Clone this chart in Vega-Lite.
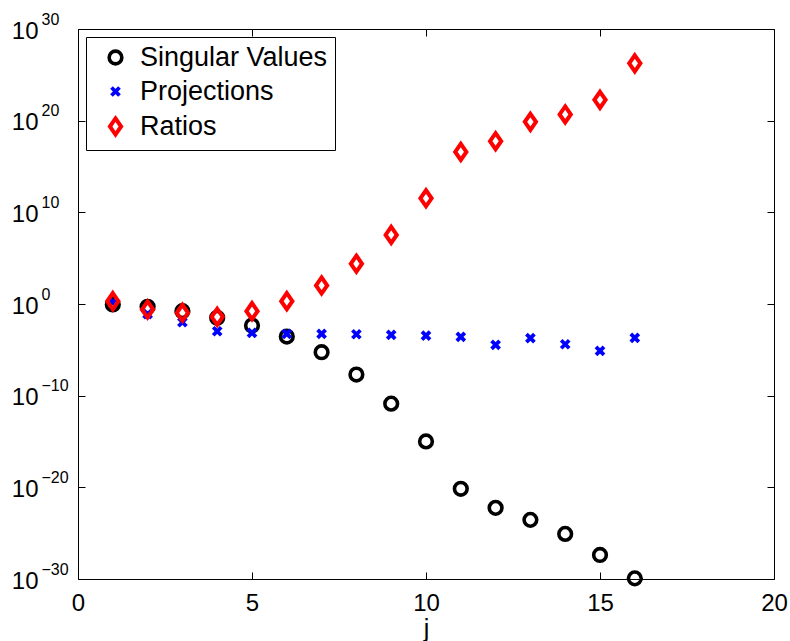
{
  "$schema": "https://vega.github.io/schema/vega-lite/v6.json",
  "width": 696,
  "height": 550,
  "autosize": {"type": "none"},
  "padding": {"left": 78, "top": 29, "right": 16, "bottom": 62},
  "background": "white",
  "data": {
    "values": [
      {"j": 1, "series": "Singular Values", "value": 0.891},
      {"j": 2, "series": "Singular Values", "value": 0.49},
      {"j": 3, "series": "Singular Values", "value": 0.166},
      {"j": 4, "series": "Singular Values", "value": 0.0309},
      {"j": 5, "series": "Singular Values", "value": 0.00447},
      {"j": 6, "series": "Singular Values", "value": 2.82e-4},
      {"j": 7, "series": "Singular Values", "value": 5.5e-6},
      {"j": 8, "series": "Singular Values", "value": 2.0e-8},
      {"j": 9, "series": "Singular Values", "value": 1.35e-11},
      {"j": 10, "series": "Singular Values", "value": 1.02e-15},
      {"j": 11, "series": "Singular Values", "value": 6.92e-21},
      {"j": 12, "series": "Singular Values", "value": 5.75e-23},
      {"j": 13, "series": "Singular Values", "value": 2.82e-24},
      {"j": 14, "series": "Singular Values", "value": 8.32e-26},
      {"j": 15, "series": "Singular Values", "value": 4.17e-28},
      {"j": 16, "series": "Singular Values", "value": 1.17e-30},
      {"j": 1, "series": "Projections", "value": 1.58},
      {"j": 2, "series": "Projections", "value": 0.0794},
      {"j": 3, "series": "Projections", "value": 0.0102},
      {"j": 4, "series": "Projections", "value": 0.00107},
      {"j": 5, "series": "Projections", "value": 7.08e-4},
      {"j": 6, "series": "Projections", "value": 5.5e-4},
      {"j": 7, "series": "Projections", "value": 5.5e-4},
      {"j": 8, "series": "Projections", "value": 5.01e-4},
      {"j": 9, "series": "Projections", "value": 4.27e-4},
      {"j": 10, "series": "Projections", "value": 3.63e-4},
      {"j": 11, "series": "Projections", "value": 2.63e-4},
      {"j": 12, "series": "Projections", "value": 3.47e-5},
      {"j": 13, "series": "Projections", "value": 1.86e-4},
      {"j": 14, "series": "Projections", "value": 4.07e-5},
      {"j": 15, "series": "Projections", "value": 7.59e-6},
      {"j": 16, "series": "Projections", "value": 2.0e-4},
      {"j": 1, "series": "Ratios", "value": 2.04},
      {"j": 2, "series": "Ratios", "value": 0.251},
      {"j": 3, "series": "Ratios", "value": 0.11},
      {"j": 4, "series": "Ratios", "value": 0.0398},
      {"j": 5, "series": "Ratios", "value": 0.166},
      {"j": 6, "series": "Ratios", "value": 2.04},
      {"j": 7, "series": "Ratios", "value": 104.7},
      {"j": 8, "series": "Ratios", "value": 2.45e4},
      {"j": 9, "series": "Ratios", "value": 3.47e7},
      {"j": 10, "series": "Ratios", "value": 3.39e11},
      {"j": 11, "series": "Ratios", "value": 3.89e16},
      {"j": 12, "series": "Ratios", "value": 5.75e17},
      {"j": 13, "series": "Ratios", "value": 7.41e19},
      {"j": 14, "series": "Ratios", "value": 4.79e20},
      {"j": 15, "series": "Ratios", "value": 1.86e22},
      {"j": 16, "series": "Ratios", "value": 1.78e26}
    ]
  },
  "resolve": {"axis": {"x": "independent", "y": "independent"}},
  "layer": [
    {
      "mark": {"type": "point", "filled": false, "opacity": 1},
      "encoding": {
        "x": {
          "field": "j", "type": "quantitative",
          "scale": {"domain": [0, 20], "nice": false, "zero": false},
          "axis": {
            "orient": "bottom", "values": [0, 5, 10, 15, 20], "tickSize": -7,
            "labelPadding": 19, "labelFontSize": 24, "labelFlush": false, "labelOverlap": false,
            "domain": false, "grid": false, "tickColor": "black", "labelColor": "black",
            "title": "j", "titleFontSize": 25, "titleFontWeight": "normal", "titleColor": "black",
            "titleBaseline": "alphabetic", "titleY": 57
          }
        },
        "y": {
          "field": "value", "type": "quantitative",
          "scale": {"type": "log", "domain": [1e-30, 1e30], "nice": false},
          "axis": {
            "orient": "left", "values": [1e-30, 1e-20, 1e-10, 1, 1e10, 1e20, 1e30],
            "labelExpr": "'10'", "tickSize": -7, "labelPadding": 47, "labelAlign": "right",
            "labelBaseline": "middle", "labelOffset": 2, "labelFontSize": 24,
            "labelFlush": false, "labelOverlap": false,
            "domain": false, "grid": false, "tickColor": "black", "labelColor": "black", "title": null
          }
        },
        "color": {
          "field": "series", "type": "nominal",
          "scale": {"domain": ["Singular Values", "Projections", "Ratios"], "range": ["#000000", "#0000ff", "#ff0000"]},
          "legend": {
            "orient": "top-left", "offset": 8, "title": null,
            "strokeColor": "black", "fillColor": "white", "padding": 7,
            "labelFontSize": 27, "labelColor": "black", "labelLimit": 0, "symbolSize": 100, "symbolStrokeWidth": 3.8,
            "symbolOffset": 9, "labelOffset": 11, "rowPadding": 5
          }
        },
        "shape": {
          "field": "series", "type": "nominal",
          "scale": {"domain": ["Singular Values", "Projections", "Ratios"],
            "range": ["circle", "M-0.6,-0.6L0.6,0.6M0.6,-0.6L-0.6,0.6", "M0,-1.15L0.8,0L0,1.15L-0.8,0Z"]}
        },
        "size": {
          "field": "series", "type": "nominal",
          "scale": {"domain": ["Singular Values", "Projections", "Ratios"], "range": [160, 196, 196]},
          "legend": null
        },
        "strokeWidth": {
          "field": "series", "type": "nominal",
          "scale": {"domain": ["Singular Values", "Projections", "Ratios"], "range": [3.6, 4, 5]},
          "legend": null
        }
      }
    },
    {
      "mark": {"type": "point", "opacity": 0},
      "encoding": {
        "x": {
          "field": "j", "type": "quantitative",
          "axis": {
            "orient": "top", "values": [0, 5, 10, 15, 20], "tickSize": -7, "labels": false,
            "domain": false, "grid": false, "tickColor": "black", "title": null
          }
        },
        "y": {
          "field": "value", "type": "quantitative",
          "axis": {
            "orient": "left", "values": [1e-30, 1e-20, 1e-10, 1, 1e10, 1e20, 1e30],
            "labelExpr": "format(round(log(datum.value)/LN10), 'd')",
            "ticks": false, "domain": false, "grid": false,
            "labelAlign": "left", "labelBaseline": "alphabetic", "labelPadding": 37, "labelOffset": -5,
            "labelFontSize": 16, "labelColor": "black", "labelFlush": false, "labelOverlap": false, "title": null
          }
        }
      }
    },
    {
      "mark": {"type": "point", "opacity": 0},
      "encoding": {
        "x": {"field": "j", "type": "quantitative", "axis": null},
        "y": {
          "field": "value", "type": "quantitative",
          "axis": {
            "orient": "right", "values": [1e-30, 1e-20, 1e-10, 1, 1e10, 1e20, 1e30],
            "tickSize": -7, "labels": false, "domain": false, "grid": false,
            "tickColor": "black", "title": null
          }
        }
      }
    }
  ],
  "config": {
    "font": "Liberation Sans",
    "view": {"stroke": "black", "strokeWidth": 1}
  }
}
